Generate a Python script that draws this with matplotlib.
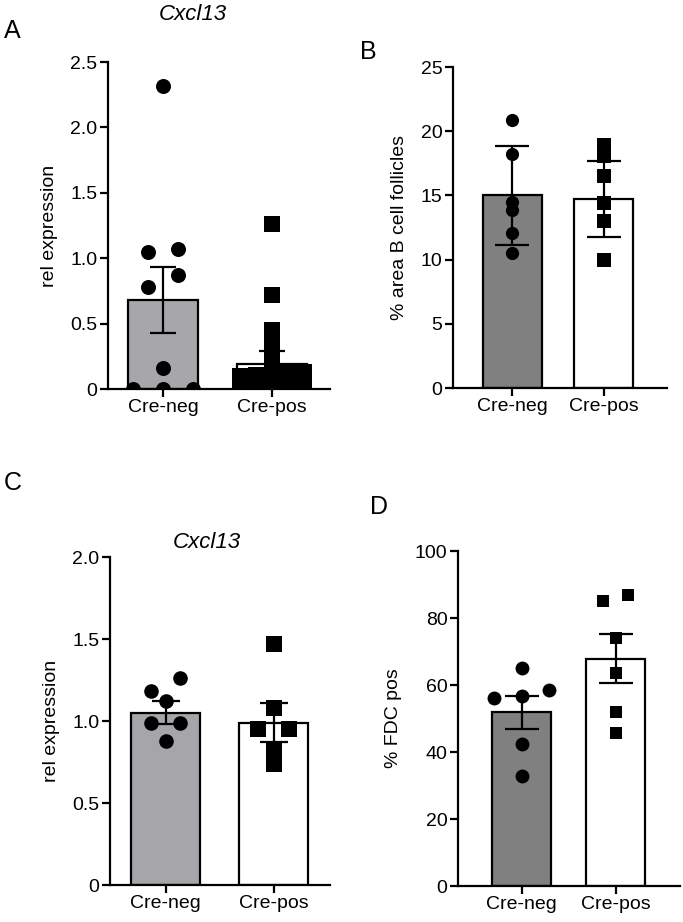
import matplotlib
matplotlib.use('Agg')
import matplotlib.pyplot as plt
import numpy as np

plt.rcParams['font.family'] = ['Liberation Sans', 'DejaVu Sans']

W, H = 683, 922

groups = ["Cre-neg", "Cre-pos"]

# A: Cxcl13 rel expression (mean +/- SEM)
a_neg = [2.32, 1.07, 1.05, 0.87, 0.78, 0.16, 0.0, 0.0, 0.0]
a_pos = [1.26, 0.72, 0.45, 0.35, 0.24, 0.13, 0.12, 0.12, 0.11, 0.10,
         0.03, 0.03, 0.02, 0.02, 0.01, 0.01]
a_mean = [0.68, 0.19]
a_err = [0.255, 0.10]
a_ticks = [0, 0.5, 1.0, 1.5, 2.0, 2.5]
a_ticklabels = ["0", "0.5", "1.0", "1.5", "2.0", "2.5"]

# B: % area B cell follicles (mean +/- SD)
b_neg = [20.9, 18.2, 14.5, 13.9, 12.1, 10.5]
b_pos = [18.9, 18.1, 16.5, 14.4, 13.0, 10.0]
b_mean = [15.0, 14.7]
b_err = [3.85, 2.95]
b_ticks = [0, 5, 10, 15, 20, 25]

# C: Cxcl13 rel expression (mean +/- SEM)
c_neg = [1.26, 1.18, 1.12, 0.99, 0.99, 0.88]
c_pos = [1.47, 1.08, 0.95, 0.95, 0.83, 0.74]
c_mean = [1.05, 0.99]
c_err = [0.07, 0.12]
c_ticks = [0, 0.5, 1.0, 1.5, 2.0]
c_ticklabels = ["0", "0.5", "1.0", "1.5", "2.0"]

# D: % FDC pos (mean +/- SEM)
d_neg = [65.2, 58.5, 56.7, 56.0, 42.4, 32.8]
d_pos = [87.0, 85.0, 73.9, 63.6, 52.0, 45.7]
d_mean = [51.8, 67.9]
d_err = [4.9, 7.2]
d_ticks = [0, 20, 40, 60, 80, 100]

fig = plt.figure(figsize=(W / 100, H / 100), dpi=100)


def px_axes(l, r, t, b):
    return fig.add_axes([l / W, 1 - b / H, (r - l) / W, (b - t) / H])


def swarm_x(ax, xc, vals, ms, max_half, spread=True, tol=1.0):
    # simple row based column scatter, in pixel units
    vals = np.asarray(vals, dtype=float)
    xs = np.full(len(vals), float(xc))
    if not spread:
        return xs
    d = ms * fig.dpi / 72.0
    ypx = ax.transData.transform(np.column_stack([xs, vals]))[:, 1]
    per_unit = ax.transData.transform((xc + 1, 0))[0] - ax.transData.transform((xc, 0))[0]
    order = np.argsort(-ypx)
    i = 0
    while i < len(order):
        top = ypx[order[i]]
        j = i
        while j < len(order) and top - ypx[order[j]] < d * tol:
            j += 1
        grp = order[i:j][::-1]
        n = len(grp)
        if n > 1:
            s = min(2 * d, 2 * max_half / (n - 1))
            offs = (np.arange(n) - (n - 1) / 2) * s
            for k, idx in enumerate(grp):
                xs[idx] = xc + offs[k] / per_unit
        i = j
    return xs


def panel(box, xlim, width, means, errs, neg, pos, neg_color, ylim, ticks,
          ticklabels, ylabel, ms_c, ms_s, capsize, spread=True, max_half=30):
    ax = px_axes(*box)
    ax.set_xlim(*xlim)
    ax.set_ylim(*ylim)
    x = np.arange(len(groups))
    ax.bar(x, means, width=width, color=[neg_color, "white"],
           edgecolor="black", linewidth=1.6, zorder=2)
    ax.errorbar(x, means, yerr=errs, fmt="none", ecolor="black",
                elinewidth=1.6, capsize=capsize, capthick=1.6, zorder=3)
    xn = swarm_x(ax, 0, neg, ms_c, max_half, spread, tol=1.0)
    xp = swarm_x(ax, 1, pos, ms_s, max_half, spread, tol=0.8)
    ax.plot(xn, neg, "o", color="black", ms=ms_c, mew=0, zorder=4)
    ax.plot(xp, pos, "s", color="black", ms=ms_s, mew=0, zorder=4)
    for side in ["top", "right"]:
        ax.spines[side].set_visible(False)
    for side in ["left", "bottom"]:
        ax.spines[side].set_linewidth(1.6)
    ax.set_yticks(ticks)
    ax.set_yticklabels(ticklabels)
    ax.set_xticks(x)
    ax.set_xticklabels(groups)
    ax.tick_params(axis="both", width=1.6, length=5.5, labelsize=14,
                   colors="black", pad=2)
    ax.set_ylabel(ylabel, fontsize=14, labelpad=9)
    return ax


panel((108, 330, 62, 389), (-0.505, 1.532), 0.64, a_mean, a_err, a_neg, a_pos,
      "#a6a6ab", (0, 2.5), a_ticks, a_ticklabels, "rel expression",
      10.8, 11.5, 9.7, max_half=32)

panel((453, 667, 67, 388), (-0.65, 1.689), 0.645, b_mean, b_err, b_neg, b_pos,
      "#808080", (0, 25), b_ticks, [str(t) for t in b_ticks],
      "% area B cell follicles", 9.5, 10, 11.9, spread=False)

panel((110, 330, 557, 885), (-0.514, 1.523), 0.63, c_mean, c_err, c_neg, c_pos,
      "#a5a5aa", (0, 2.0), c_ticks, c_ticklabels, "rel expression",
      10.5, 11.5, 10.3, max_half=30)

panel((458, 680, 551, 886), (-0.676, 1.686), 0.628, d_mean, d_err, d_neg, d_pos,
      "#808080", (0, 100), d_ticks, [str(t) for t in d_ticks], "% FDC pos",
      10, 9, 11.9, max_half=28)

fig.text(193 / W, 1 - 14 / H, "Cxcl13", fontsize=16, style="italic",
         ha="center", va="center")
fig.text(207 / W, 1 - 543 / H, "Cxcl13", fontsize=16, style="italic",
         ha="center", va="center")

for lab, x, y in [("A", 4, 31), ("B", 360, 52), ("C", 4, 483), ("D", 370, 507)]:
    fig.text(x / W, 1 - y / H, lab, fontsize=18, ha="left", va="center")

fig.savefig("out.png", dpi=100, facecolor="white")
